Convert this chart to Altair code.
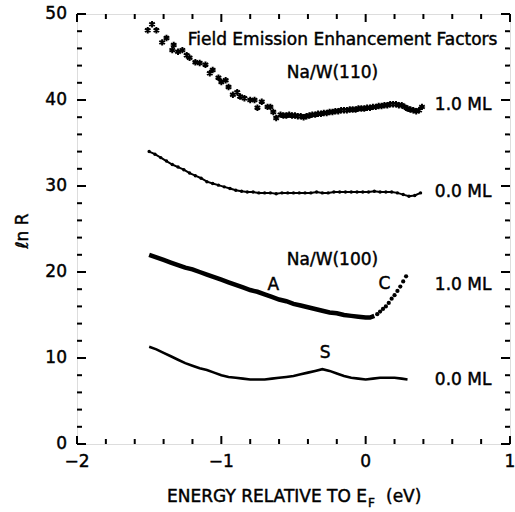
import altair as alt
import pandas as pd

# ---- data ----
# Na/W(110) 1.0 ML (asterisks)
s1_x = [-1.51, -1.48, -1.45, -1.41, -1.38, -1.34, -1.33, -1.30, -1.27, -1.24, -1.22, -1.18,
        -1.15, -1.11, -1.08, -1.06, -1.02, -1.00, -0.97, -0.95, -0.92, -0.89, -0.87, -0.84,
        -0.80, -0.77, -0.75, -0.72, -0.68, -0.66, -0.64, -0.62, -0.59,
        -0.57, -0.55, -0.53, -0.51, -0.49, -0.47, -0.45, -0.43, -0.41, -0.39, -0.37, -0.35,
        -0.33, -0.31, -0.29, -0.27, -0.25, -0.23, -0.21, -0.19, -0.17, -0.15, -0.13, -0.11,
        -0.09, -0.07, -0.05, -0.03, -0.01, 0.01, 0.03, 0.05, 0.07, 0.09, 0.11, 0.13, 0.15,
        0.17, 0.19, 0.21, 0.23, 0.25, 0.27, 0.29, 0.31, 0.33, 0.35, 0.37, 0.39]
s1_y = [48.1, 48.8, 48.1, 46.7, 47.2, 45.8, 46.4, 45.6, 45.8, 45.2, 44.9, 44.4,
        44.3, 44.1, 43.1, 43.5, 42.6, 42.1, 42.3, 41.5, 40.6, 40.9, 40.4, 40.2,
        40.0, 40.0, 39.1, 39.8, 39.2, 39.2, 38.6, 37.9, 38.3,
        38.2, 38.2, 38.3, 38.2, 38.2, 38.1, 38.1, 38.0, 38.1, 38.2, 38.3, 38.3,
        38.4, 38.4, 38.5, 38.5, 38.6, 38.6, 38.7, 38.7, 38.8, 38.8, 38.8, 38.9,
        38.9, 38.9, 39.0, 39.0, 39.0, 39.1, 39.1, 39.2, 39.2, 39.3, 39.3, 39.4, 39.4,
        39.5, 39.5, 39.5, 39.4, 39.4, 39.2, 39.0, 38.9, 38.8, 38.7, 38.8, 39.2]

# Na/W(110) 0.0 ML
s2_x = [-1.50, -1.46, -1.42, -1.38, -1.34, -1.30, -1.26, -1.22, -1.18, -1.14, -1.10, -1.06,
        -1.02, -0.98, -0.94, -0.90, -0.86, -0.82, -0.78, -0.74, -0.70, -0.66, -0.62, -0.58,
        -0.54, -0.50, -0.46, -0.42, -0.38, -0.34, -0.30, -0.26, -0.22, -0.18, -0.14, -0.10,
        -0.06, -0.02, 0.02, 0.06, 0.10, 0.14, 0.18, 0.22, 0.26, 0.30, 0.34, 0.38]
s2_y = [34.0, 33.7, 33.3, 32.9, 32.5, 32.2, 31.9, 31.5, 31.2, 30.9, 30.5, 30.3,
        30.1, 29.9, 29.7, 29.5, 29.4, 29.3, 29.3, 29.2, 29.2, 29.2, 29.1, 29.2,
        29.2, 29.2, 29.2, 29.2, 29.2, 29.3, 29.2, 29.2, 29.3, 29.3, 29.3, 29.3,
        29.3, 29.3, 29.3, 29.4, 29.3, 29.3, 29.3, 29.2, 29.0, 28.8, 28.9, 29.2]

# Na/W(100) 1.0 ML (thick part)
s3_x = [-1.50, -1.45, -1.40, -1.35, -1.30, -1.25, -1.20, -1.15, -1.10, -1.05, -1.00, -0.95,
        -0.90, -0.85, -0.80, -0.75, -0.70, -0.65, -0.60, -0.55, -0.50, -0.45, -0.40, -0.35,
        -0.30, -0.25, -0.20, -0.15, -0.10, -0.05, 0.00, 0.03, 0.06]
s3_y = [22.0, 21.7, 21.4, 21.1, 20.8, 20.5, 20.3, 20.0, 19.7, 19.4, 19.1, 18.8,
        18.5, 18.2, 17.9, 17.7, 17.4, 17.1, 16.8, 16.6, 16.3, 16.1, 15.9, 15.7,
        15.5, 15.3, 15.2, 15.0, 14.9, 14.8, 14.7, 14.7, 14.9]
# Na/W(100) 1.0 ML (rising dotted part C)
s3c_x = [0.08, 0.10, 0.12, 0.14, 0.16, 0.18, 0.20, 0.22, 0.24, 0.26, 0.28]
s3c_y = [15.1, 15.4, 15.7, 16.0, 16.4, 16.9, 17.3, 17.8, 18.3, 18.9, 19.5]

# Na/W(100) 0.0 ML
s4_x = [-1.50, -1.45, -1.40, -1.35, -1.30, -1.25, -1.20, -1.15, -1.10, -1.05, -1.00, -0.95,
        -0.90, -0.85, -0.80, -0.75, -0.70, -0.65, -0.60, -0.55, -0.50, -0.45, -0.40, -0.35,
        -0.30, -0.25, -0.20, -0.15, -0.10, -0.05, 0.00, 0.05, 0.10, 0.15, 0.20, 0.25, 0.29]
s4_y = [11.3, 11.0, 10.6, 10.2, 9.8, 9.4, 9.1, 8.8, 8.6, 8.3, 8.0, 7.8,
        7.7, 7.6, 7.5, 7.5, 7.5, 7.6, 7.7, 7.8, 7.9, 8.1, 8.3, 8.5,
        8.7, 8.5, 8.2, 7.9, 7.7, 7.6, 7.5, 7.6, 7.7, 7.7, 7.7, 7.6, 7.5]

# annotations
ann_text = ["Field Emission Enhancement Factors", "Na/W(110)", "1.0 ML", "0.0 ML",
            "Na/W(100)", "A", "C", "1.0 ML", "S", "0.0 ML"]
ann_x = [-0.16, -0.23, 0.675, 0.675, -0.23, -0.64, 0.13, 0.675, -0.28, 0.675]
ann_y = [47.0, 43.1, 39.4, 29.3, 21.4, 18.5, 18.6, 18.5, 10.6, 7.4]

x_major = [-2, -1, 0, 1]
x_labels = ["\u22122", "\u22121", "0", "1"]
x_minor = [-1.8, -1.6, -1.4, -1.2, -0.8, -0.6, -0.4, -0.2, 0.2, 0.4, 0.6, 0.8]
y_major = [0, 10, 20, 30, 40, 50]
y_labels = ["0", "10", "20", "30", "40", "50"]
y_minor = [2, 4, 6, 8, 12, 14, 16, 18, 22, 24, 26, 28, 32, 34, 36, 38, 42, 44, 46, 48]

W, H = 433, 430
FONT = "DejaVu Sans"
TXT = dict(font=FONT, color="black", stroke="black", strokeWidth=0.45)

xs = alt.Scale(domain=[-2, 1], nice=False, zero=False)
ys = alt.Scale(domain=[0, 50], nice=False, zero=False)

def df(x, y):
    return pd.DataFrame({"x": x, "y": y})

X = alt.X("x:Q", scale=xs, axis=None)
Y = alt.Y("y:Q", scale=ys, axis=None)

star = "M0,-1L0,1M-0.87,-0.5L0.87,0.5M-0.87,0.5L0.87,-0.5"

l1 = alt.Chart(df(s1_x, s1_y)).mark_point(shape=star, filled=False, size=42, strokeWidth=2,
                                          color="black", opacity=1).encode(x=X, y=Y)
l2a = alt.Chart(df(s2_x, s2_y)).mark_line(color="black", strokeWidth=2).encode(x=X, y=Y)
l2b = alt.Chart(df(s2_x, s2_y)).mark_point(filled=True, size=12, color="black",
                                           opacity=1).encode(x=X, y=Y)
l3 = alt.Chart(df(s3_x, s3_y)).mark_line(color="black", strokeWidth=4.5).encode(x=X, y=Y)
l3c = alt.Chart(df(s3c_x, s3c_y)).mark_point(filled=True, size=18, color="black",
                                             opacity=1).encode(x=X, y=Y)
l4 = alt.Chart(df(s4_x, s4_y)).mark_line(color="black", strokeWidth=2.6).encode(x=X, y=Y)

ann = alt.Chart(pd.DataFrame({"x": ann_x, "y": ann_y, "t": ann_text})).mark_text(
    fontSize=17, align="center", baseline="middle", **TXT
).encode(x=alt.X("x:Q", scale=xs, axis=None), y=alt.Y("y:Q", scale=ys, axis=None),
         text="t:N")

# tick labels
xl = alt.Chart(pd.DataFrame({"v": x_major, "t": x_labels})).mark_text(
    fontSize=17, align="center", baseline="middle", **TXT
).encode(x=alt.X("v:Q", scale=xs, axis=None), y=alt.value(H + 18), text="t:N")
yl = alt.Chart(pd.DataFrame({"v": y_major, "t": y_labels})).mark_text(
    fontSize=17, align="right", baseline="middle", **TXT
).encode(y=alt.Y("v:Q", scale=ys, axis=None), x=alt.value(-10), text="t:N")

def xticks(vals, length):
    d = pd.DataFrame({"v": vals})
    bottom = alt.Chart(d).mark_rule(color="black", strokeWidth=2).encode(
        x=alt.X("v:Q", scale=xs, axis=None), y=alt.value(H), y2=alt.value(H - length))
    top = alt.Chart(d).mark_rule(color="black", strokeWidth=2).encode(
        x=alt.X("v:Q", scale=xs, axis=None), y=alt.value(0), y2=alt.value(length))
    return [bottom, top]

def yticks(vals, length):
    d = pd.DataFrame({"v": vals})
    left = alt.Chart(d).mark_rule(color="black", strokeWidth=2).encode(
        y=alt.Y("v:Q", scale=ys, axis=None), x=alt.value(0), x2=alt.value(length))
    right = alt.Chart(d).mark_rule(color="black", strokeWidth=2).encode(
        y=alt.Y("v:Q", scale=ys, axis=None), x=alt.value(W), x2=alt.value(W - length))
    return [left, right]

ticks = xticks(x_major, 8) + xticks(x_minor, 5) + yticks(y_major, 9) + yticks(y_minor, 5)

title_df = pd.DataFrame({"a": [0]})
xt1 = alt.Chart(title_df).mark_text(fontSize=17, align="right", baseline="middle",
                                    **TXT).encode(
    x=alt.value(290), y=alt.value(483), text=alt.value("ENERGY RELATIVE TO E"))
xt2 = alt.Chart(title_df).mark_text(fontSize=12, align="left", baseline="middle",
                                    **TXT).encode(
    x=alt.value(291), y=alt.value(489), text=alt.value("F"))
xt3 = alt.Chart(title_df).mark_text(fontSize=17, align="left", baseline="middle",
                                    **TXT).encode(
    x=alt.value(309), y=alt.value(483), text=alt.value("(eV)"))
yt = alt.Chart(title_df).mark_text(fontSize=17, align="center", baseline="middle",
                                   angle=270, **TXT).encode(
    x=alt.value(-54), y=alt.value(217), text=alt.value("ℓn R"))

chart = alt.layer(l1, l2a, l2b, l3, l3c, l4, ann, xl, yl, *ticks,
                  xt1, xt2, xt3, yt).properties(
    width=W, height=H,
    padding={"left": 77, "top": 14, "right": 5, "bottom": 68},
    autosize=alt.AutoSizeParams(type="none"),
).configure_view(stroke="black", strokeWidth=2.5).configure(background="white")

chart.save("out.html", embed_options={"renderer": "svg", "actions": False})
